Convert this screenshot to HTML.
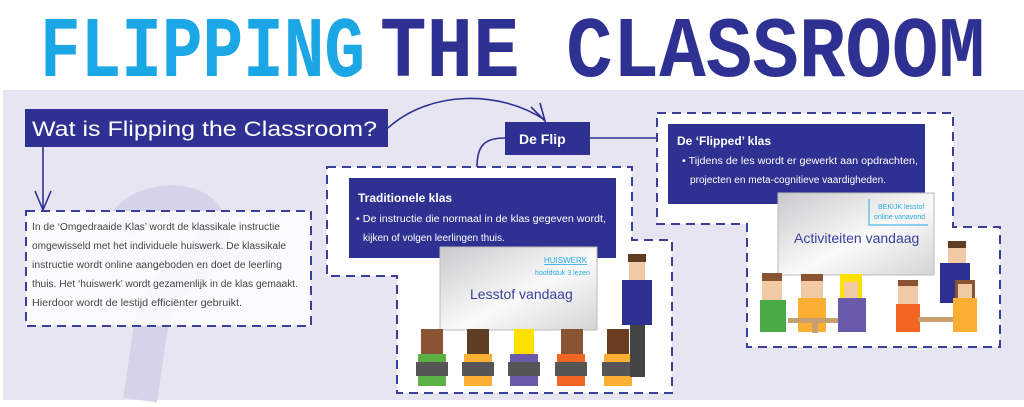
<!DOCTYPE html>
<html><head><meta charset="utf-8"><style>
html,body{margin:0;padding:0;background:#fff;width:1024px;height:407px;overflow:hidden}
svg{display:block}
text{font-family:"Liberation Sans",sans-serif}
</style></head><body>
<svg width="1024" height="407" viewBox="0 0 1024 407" xmlns="http://www.w3.org/2000/svg">
<defs>
<linearGradient id="bd" x1="0" y1="0" x2="1" y2="1">
<stop offset="0" stop-color="#c9c9cc"/><stop offset="0.55" stop-color="#fafafa"/><stop offset="1" stop-color="#d4d4d6"/></linearGradient>
</defs>
<rect width="1024" height="407" fill="#fff"/>
<rect x="3" y="90" width="1021" height="310" fill="#e7e5f2"/>
<text x="40" y="75" font-size="72" font-weight="bold" fill="#1ba6e6" textLength="325" lengthAdjust="spacingAndGlyphs" transform="translate(0,-14) scale(1,1.2)" style="font-family:'Liberation Mono',monospace">FLIPPING</text>
<text x="380" y="75" font-size="72" font-weight="bold" fill="#2e3192" textLength="605" lengthAdjust="spacingAndGlyphs" transform="translate(0,-14) scale(1,1.2)" style="font-family:'Liberation Mono',monospace">THE CLASSROOM</text>
<!-- question mark shape -->
<path d="M122,232 C128,198 205,188 212,230 C218,268 160,275 152,320 L140,400" fill="none" stroke="#d5d3ea" stroke-width="34"/>

<!-- connectors -->
<g fill="none" stroke="#2e3192" stroke-width="1.6">
<path d="M388,128 C430,90 500,90 545,120"/>
<path d="M531,107 L545,121 L540,103"/>
<path d="M43,147 L43,210"/>
<path d="M35,191 L43,210 L51,191"/>
<path d="M477,167 C477,145 485,138 505,138"/>
<path d="M590,138 L657,138"/>
</g>

<rect x="25" y="109" width="363" height="38" fill="#2e3192"/>
<text x="32" y="136" font-size="21" fill="#fff" textLength="345" lengthAdjust="spacingAndGlyphs">Wat is Flipping the Classroom?</text>

<rect x="26" y="211" width="285" height="115" fill="#fff" fill-opacity="0.82" stroke="#3b3f9a" stroke-width="2" stroke-dasharray="9,6"/>
<g font-size="10" fill="#444">
<text x="32" y="230" textLength="248" lengthAdjust="spacingAndGlyphs">In de ‘Omgedraaide Klas’ wordt de klassikale instructie</text>
<text x="32" y="249" textLength="254" lengthAdjust="spacingAndGlyphs">omgewisseld met het individuele huiswerk. De klassikale</text>
<text x="32" y="268" textLength="250" lengthAdjust="spacingAndGlyphs">instructie wordt online aangeboden en doet de leerling</text>
<text x="32" y="287" textLength="266" lengthAdjust="spacingAndGlyphs">thuis. Het ‘huiswerk’ wordt gezamenlijk in de klas gemaakt.</text>
<text x="32" y="306" textLength="210" lengthAdjust="spacingAndGlyphs">Hierdoor wordt de lestijd efficiënter gebruikt.</text>
</g>

<rect x="505" y="122" width="85" height="33" fill="#2e3192"/>
<text x="519" y="144" font-size="14" font-weight="bold" fill="#fff">De Flip</text>

<path d="M327,167 L632,167 L632,240 L672,240 L672,393 L397,393 L397,276 L327,276 Z" fill="#fff" stroke="#3b3f9a" stroke-width="2" stroke-dasharray="9,6"/>
<rect x="349" y="178" width="267" height="80" fill="#2e3192"/>
<text x="358" y="202" font-size="12" font-weight="bold" fill="#fff">Traditionele klas</text>
<g font-size="10" fill="#fff">
<text x="356" y="222" textLength="250" lengthAdjust="spacingAndGlyphs">• De instructie die normaal in de klas gegeven wordt,</text>
<text x="363" y="241">kijken of volgen leerlingen thuis.</text>
</g>
<rect x="440" y="247" width="157" height="83" fill="url(#bd)" stroke="#bbb"/>
<text x="544" y="263" font-size="8" fill="#2aa8e0" text-decoration="underline">HUISWERK</text>
<text x="535" y="275" font-size="7" fill="#2aa8e0">hoofdstuk 3 lezen</text>
<text x="470" y="299" font-size="14" fill="#3b3f9a">Lesstof vandaag</text>
<g>
<rect x="421" y="329" width="22" height="25" fill="#8a5433"/><rect x="418" y="354" width="28" height="32" fill="#5bb144"/><rect x="416" y="362" width="32" height="14" fill="#555"/>
<rect x="467" y="329" width="22" height="25" fill="#5e3d22"/><rect x="464" y="354" width="28" height="32" fill="#fbb034"/><rect x="462" y="362" width="32" height="14" fill="#555"/>
<rect x="514" y="329" width="20" height="25" fill="#ffe100"/><rect x="510" y="354" width="28" height="32" fill="#6a5aab"/><rect x="508" y="362" width="32" height="14" fill="#555"/>
<rect x="561" y="329" width="22" height="25" fill="#8a5433"/><rect x="557" y="354" width="28" height="32" fill="#f26522"/><rect x="555" y="362" width="32" height="14" fill="#555"/>
<rect x="607" y="329" width="22" height="25" fill="#6b3e1f"/><rect x="604" y="354" width="28" height="32" fill="#fbb034"/><rect x="602" y="362" width="32" height="14" fill="#555"/>
<rect x="628" y="254" width="18" height="8" fill="#5e3d22"/><rect x="629" y="262" width="16" height="18" fill="#f1c9a5"/>
<rect x="622" y="280" width="30" height="45" fill="#2e3192"/><rect x="630" y="325" width="15" height="52" fill="#444"/>
</g>

<path d="M657,113 L953,113 L953,227 L1000,227 L1000,347 L747,347 L747,224 L657,224 Z" fill="#fff" stroke="#3b3f9a" stroke-width="2" stroke-dasharray="9,6"/>
<rect x="668" y="124" width="257" height="80" fill="#2e3192"/>
<text x="677" y="145" font-size="12" font-weight="bold" fill="#fff">De ‘Flipped’ klas</text>
<g font-size="10" fill="#fff">
<text x="682" y="164" textLength="236" lengthAdjust="spacingAndGlyphs">• Tijdens de les wordt er gewerkt aan opdrachten,</text>
<text x="690" y="183" textLength="196" lengthAdjust="spacingAndGlyphs">projecten en meta-cognitieve vaardigheden.</text>
</g>
<rect x="778" y="193" width="156" height="82" fill="url(#bd)" stroke="#bbb"/>
<path d="M869,199 L869,225 L928,225" stroke="#2aa8e0" fill="none"/>
<text x="878" y="209" font-size="7" fill="#2aa8e0">BEKIJK lesstof</text>
<text x="874" y="219" font-size="7" fill="#2aa8e0">online vanavond</text>
<text x="794" y="243" font-size="14" fill="#3b3f9a">Activiteiten vandaag</text>
<g>
<rect x="762" y="275" width="20" height="25" fill="#f1c9a5"/><rect x="762" y="273" width="20" height="8" fill="#8a5433"/><rect x="760" y="300" width="26" height="32" fill="#4aab46"/>
<rect x="801" y="276" width="22" height="22" fill="#f1c9a5"/><rect x="801" y="274" width="22" height="7" fill="#8a5433"/><rect x="798" y="298" width="28" height="34" fill="#fbb034"/>
<rect x="788" y="318" width="56" height="5" fill="#c8a070"/><rect x="812" y="323" width="6" height="10" fill="#c8a070"/>
<rect x="840" y="274" width="22" height="26" fill="#ffe100"/><rect x="844" y="282" width="14" height="16" fill="#f1c9a5"/><rect x="838" y="298" width="28" height="34" fill="#6a5aab"/>
<rect x="898" y="282" width="20" height="22" fill="#f1c9a5"/><rect x="898" y="280" width="20" height="6" fill="#8a5433"/><rect x="896" y="304" width="24" height="28" fill="#f26522"/>
<rect x="918" y="317" width="36" height="5" fill="#c8a070"/>
<rect x="948" y="243" width="18" height="20" fill="#f1c9a5"/><rect x="948" y="241" width="18" height="7" fill="#5e3d22"/><rect x="940" y="263" width="30" height="40" fill="#2e3192"/>
<rect x="955" y="280" width="20" height="20" fill="#8a5433"/><rect x="958" y="284" width="14" height="14" fill="#f1c9a5"/><rect x="953" y="298" width="24" height="34" fill="#fbb034"/>
</g>
</svg>
</body></html>
